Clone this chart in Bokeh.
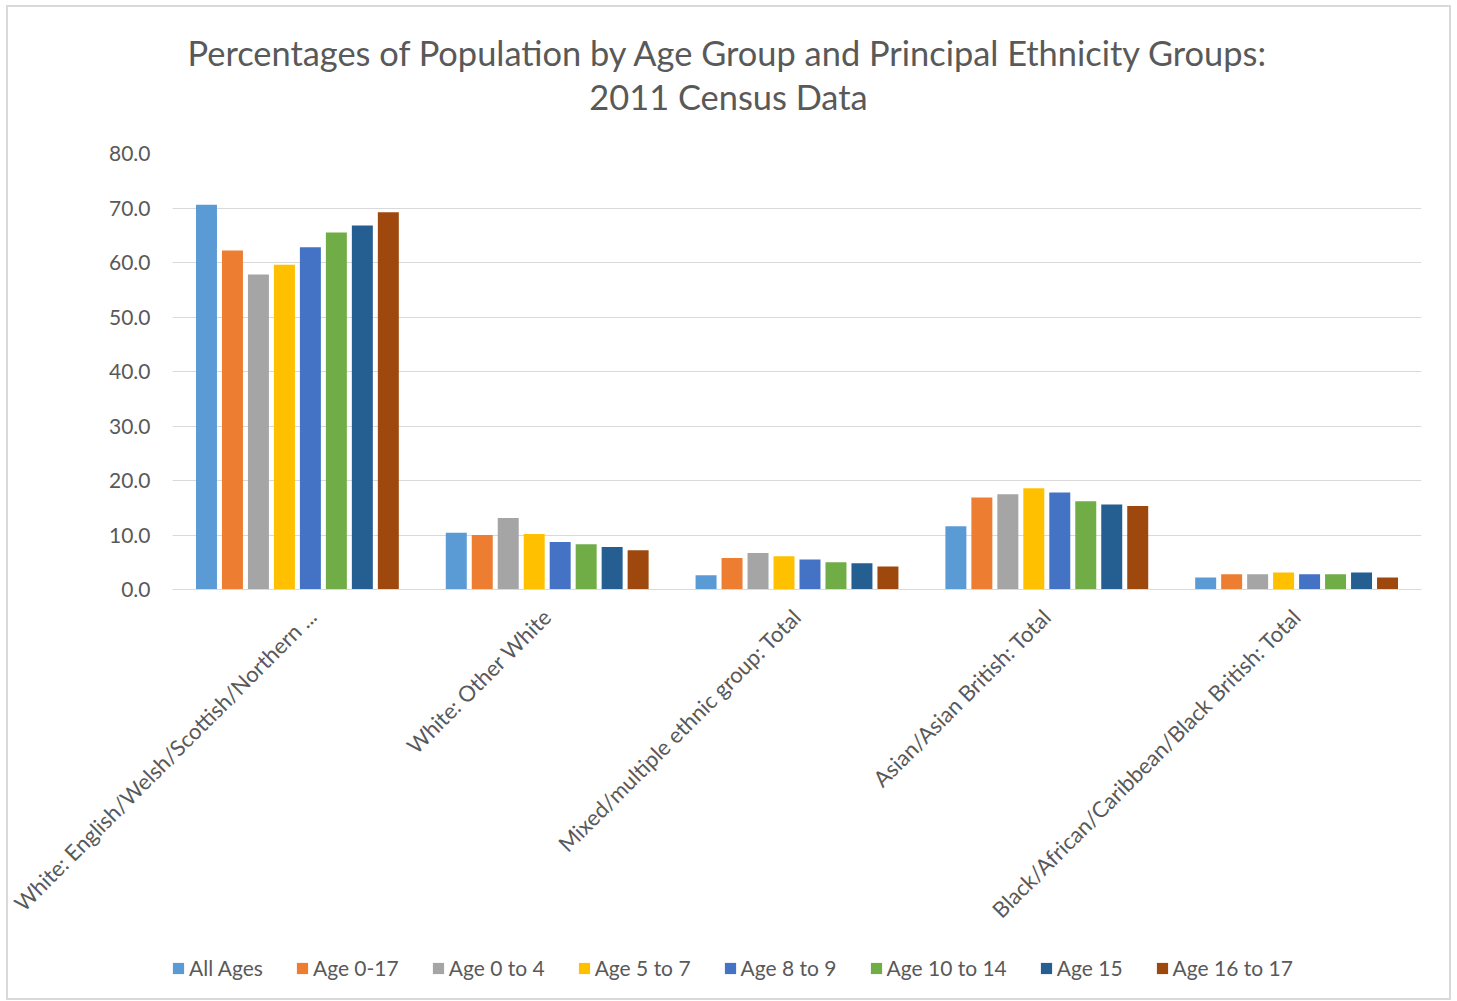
from math import pi
from bokeh.plotting import figure
from bokeh.layouts import column
from bokeh.models import (ColumnDataSource, Range1d, FactorRange, FixedTicker,
                          PrintfTickFormatter, Legend, LegendItem, Label)
from bokeh.transform import dodge
from bokeh.embed import file_html
from bokeh.resources import INLINE

categories = [
    "White: English/Welsh/Scottish/Northern ...",
    "White: Other White",
    "Mixed/multiple ethnic group: Total",
    "Asian/Asian British: Total",
    "Black/African/Caribbean/Black British: Total",
]
series_names = ["All Ages", "Age 0-17", "Age 0 to 4", "Age 5 to 7",
                "Age 8 to 9", "Age 10 to 14", "Age 15", "Age 16 to 17"]
all_ages = [70.6, 10.4, 2.6, 11.6, 2.2]
age_0_17 = [62.2, 10.0, 5.8, 16.9, 2.8]
age_0_4 = [57.8, 13.1, 6.7, 17.5, 2.8]
age_5_7 = [59.6, 10.2, 6.1, 18.6, 3.1]
age_8_9 = [62.8, 8.7, 5.5, 17.8, 2.8]
age_10_14 = [65.5, 8.3, 5.0, 16.2, 2.8]
age_15 = [66.8, 7.8, 4.8, 15.6, 3.1]
age_16_17 = [69.2, 7.2, 4.2, 15.3, 2.2]
y_ticks = [0, 10, 20, 30, 40, 50, 60, 70, 80]
title_lines = ["Percentages of Population by Age Group and Principal Ethnicity Groups:",
               "2011 Census Data"]

series_values = [all_ages, age_0_17, age_0_4, age_5_7, age_8_9,
                 age_10_14, age_15, age_16_17]
colors = ["#5B9BD5", "#ED7D31", "#A5A5A5", "#FFC000",
          "#4472C4", "#70AD47", "#255E91", "#9E480E"]

FONT = "Lato"
GREY = "#595959"
W = 1441

data = {"cats": categories}
keys = []
for i, vals in enumerate(series_values):
    k = "s%d" % i
    keys.append(k)
    data[k] = vals
source = ColumnDataSource(data)

# ---------------- title strip ----------------
pt = figure(width=W, height=126, x_range=Range1d(0, 1), y_range=Range1d(0, 1),
            output_backend="svg", toolbar_location=None,
            min_border_left=164, min_border_right=28,
            min_border_top=0, min_border_bottom=0)
pt.axis.visible = False
pt.grid.grid_line_color = None
pt.outline_line_color = None
pt.border_fill_color = "white"
for txt, yy in zip(title_lines, [81, 37]):
    pt.add_layout(Label(x=556, y=yy, x_units="screen", y_units="screen",
                        text=txt, text_align="center", text_baseline="middle",
                        text_font=FONT, text_font_size="34.4px",
                        text_color=GREY))

# ---------------- main chart ----------------
p = figure(
    x_range=FactorRange(*categories, range_padding=0.0),
    y_range=Range1d(0, 80),
    width=W, height=807,
    output_backend="svg", toolbar_location=None,
    min_border_left=164, min_border_right=28,
    min_border_top=20, min_border_bottom=351,
)
p.x_range.factor_padding = 0.0
p.outline_line_color = None
p.background_fill_color = "white"
p.border_fill_color = "white"

step = 0.104
bar_w = 0.084
for i, k in enumerate(keys):
    off = (i - 3.5) * step
    p.vbar(x=dodge("cats", off, range=p.x_range), top=k, width=bar_w,
           source=source, fill_color=colors[i], line_color=None)

p.yaxis.ticker = FixedTicker(ticks=y_ticks)
p.yaxis.formatter = PrintfTickFormatter(format="%.1f")
p.yaxis.axis_line_color = None
p.yaxis.major_tick_line_color = None
p.yaxis.minor_tick_line_color = None
p.yaxis.major_label_text_font = FONT
p.yaxis.major_label_text_font_size = "21px"
p.yaxis.major_label_text_color = GREY
p.yaxis.major_label_standoff = 16

p.xaxis.axis_line_color = "#d9d9d9"
p.xaxis.axis_line_width = 1
p.xaxis.major_tick_line_color = None
p.xaxis.minor_tick_line_color = None
p.xaxis.major_label_orientation = pi / 4
p.xaxis.major_label_text_font = FONT
p.xaxis.major_label_text_font_size = "22px"
p.xaxis.major_label_text_color = GREY
p.xaxis.major_label_standoff = 17

p.xgrid.grid_line_color = None
p.ygrid.grid_line_color = "#d9d9d9"
p.ygrid.grid_line_width = 1

# ---------------- legend strip ----------------
# zero-size proxies of the same series: only their legend swatches show
pl = figure(width=W, height=58, x_range=p.x_range, y_range=Range1d(-20, -10),
            output_backend="svg", toolbar_location=None,
            min_border_left=164, min_border_right=28,
            min_border_top=0, min_border_bottom=0)
pl.axis.visible = False
pl.grid.grid_line_color = None
pl.outline_line_color = None
pl.border_fill_color = "white"
items = []
for i, k in enumerate(keys):
    off = (i - 3.5) * step
    r = pl.vbar(x=dodge("cats", off, range=pl.x_range), top=k, bottom=k,
                width=0, source=source, fill_color=colors[i],
                line_color=None)
    items.append(LegendItem(label=series_names[i], renderers=[r]))

legend = Legend(items=items, orientation="horizontal", location=(-1, 18))
legend.label_text_font = FONT
legend.label_text_font_size = "21px"
legend.label_text_color = GREY
legend.glyph_width = 14
legend.glyph_height = 14
legend.label_standoff = 4
legend.spacing = 32
legend.padding = 0
legend.margin = 0
legend.border_line_color = None
legend.background_fill_alpha = 0
pl.add_layout(legend, "center")

layout = column(pt, p, pl, spacing=0,
                styles={"border": "2px solid #d9d9d9"},
                margin=(5, 0, 0, 6))

open("out.html", "w").write(file_html(layout, INLINE))
